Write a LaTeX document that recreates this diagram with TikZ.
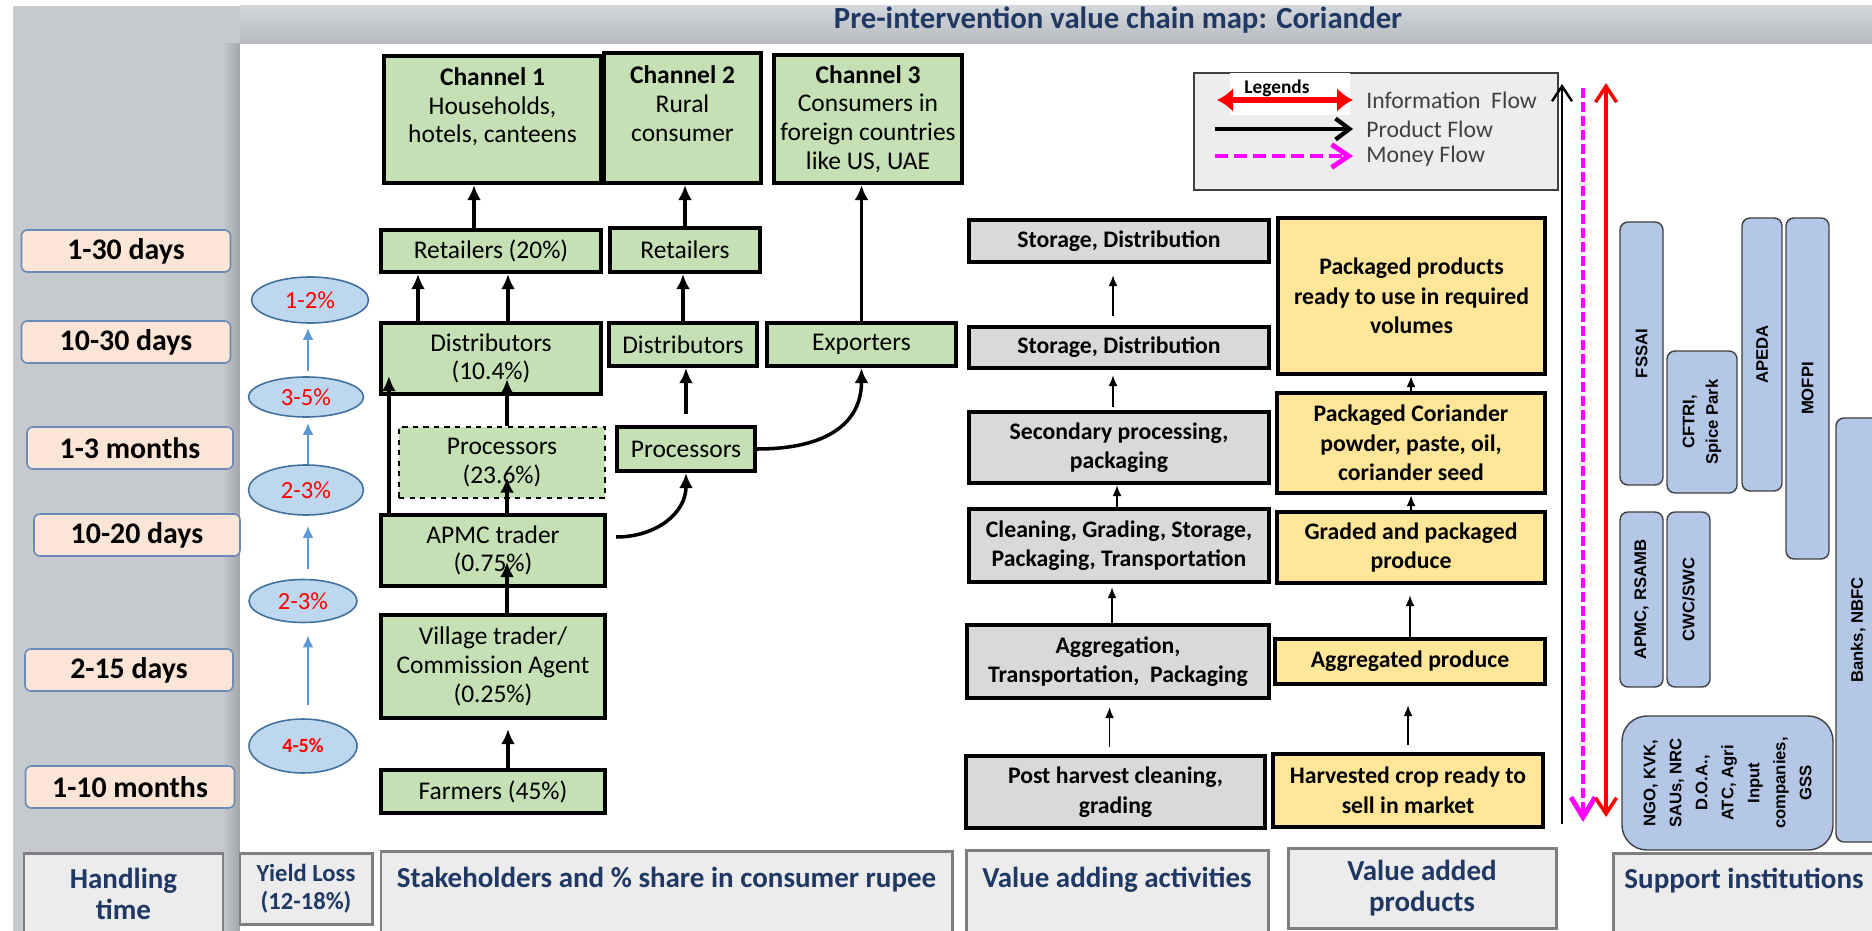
\documentclass[tikz,border=0pt]{standalone}
\usepackage{fontspec}
\setmainfont{Carlito}
\newfontfamily\arialfont{Liberation Sans}
\usetikzlibrary{shapes,arrows.meta,calc}
\definecolor{chgreen}{HTML}{C5E0B4}
\definecolor{actgray}{HTML}{D9D9D9}
\definecolor{prodyellow}{HTML}{FFE699}
\definecolor{peach}{HTML}{FBE5D6}
\definecolor{peachline}{HTML}{6A8BB8}
\definecolor{lossblue}{HTML}{BDD7EE}
\definecolor{lossline}{HTML}{41719C}
\definecolor{arrblue}{HTML}{5B9BD5}
\definecolor{instblue}{HTML}{B4C7E7}
\definecolor{navy}{HTML}{1F3864}
\definecolor{moneypink}{HTML}{FF00FF}
\definecolor{infored}{HTML}{FF0000}
\definecolor{panelgray}{HTML}{C6C9CE}
\definecolor{panelshadow}{HTML}{A2A5AA}
\definecolor{bartop}{HTML}{D3D6DA}
\definecolor{barbottom}{HTML}{B6B9BE}
\definecolor{labelfill}{HTML}{ECECEC}
\definecolor{labelline}{HTML}{7F7F7F}
\definecolor{legfill}{HTML}{EDEDED}
\definecolor{txtgray}{HTML}{404040}
\newcommand{\handling}[4]{
  \node[timebox, minimum width=#3] (#1) at (#2) {#4};
}
\tikzset{
  gbox/.style={draw, line width=2.4pt, fill=chgreen, inner sep=1pt, align=center,
    font=\fontsize{14.5}{16.4}\selectfont},
  abox/.style={draw, line width=2.4pt, fill=actgray, inner sep=1pt, align=center,
    font=\bfseries\fontsize{13.5}{16.8}\selectfont},
  ybox/.style={abox, fill=prodyellow},
  timebox/.style={draw=peachline, line width=0.9pt, fill=peach, rounded corners=1.2mm,
    minimum height=8.4mm, font=\bfseries\fontsize{17}{20}\selectfont},
  loss/.style={ellipse, draw=lossline, line width=0.9pt, fill=lossblue, inner sep=0pt,
    text=infored, font=\fontsize{14}{16}\selectfont},
  inst/.style={draw=txtgray, line width=0.8pt, fill=instblue, rounded corners=1.6mm,
    rotate=90, align=center, inner sep=1pt,
    font=\arialfont\bfseries\fontsize{9.5}{13.5}\selectfont},
  colhead/.style={draw=labelline, line width=1.7pt, fill=labelfill, align=center,
    text=navy, font=\bfseries\fontsize{16.5}{17.6}\selectfont},
  legtxt/.style={anchor=west, inner sep=0pt, text=txtgray,
    font=\fontsize{13.5}{16}\selectfont}
}

\begin{document}
\begin{tikzpicture}[x=0.2mm,y=-0.2mm]
  \useasboundingbox (0,0) rectangle (1872,931);
  \fill[panelgray] (13,6) rectangle (1872,931);
  \shade[top color=bartop, bottom color=barbottom] (240,6) rectangle (1872,44);
  \shade[left color=panelgray, right color=panelshadow] (222,44) rectangle (240,931);
  \fill[white] (240,44) rectangle (1872,931);

  \node[text=navy, font=\bfseries\fontsize{17.5}{20}\selectfont] (title) at (1118,20)
    {Pre-intervention value chain map: Coriander};

  \handling{t1}{126,251}{41.8mm}{1-30 days}
  \handling{t2}{126,342}{41.8mm}{10-30 days}
  \handling{t3}{130,448}{41.2mm}{1-3 months}
  \handling{t4}{137,535}{41.2mm}{10-20 days}
  \handling{t5}{129,670}{41.6mm}{2-15 days}
  \handling{t6}{130,787}{41.8mm}{1-10 months}

  \node[loss, minimum width=23.4mm, minimum height=9.2mm] (e1) at (310,300) {1-2\%};
  \node[loss, minimum width=23mm, minimum height=8mm] (e2) at (306,397) {3-5\%};
  \node[loss, minimum width=23mm, minimum height=10mm] (e3) at (306,490) {2-3\%};
  \node[loss, minimum width=21.6mm, minimum height=8.6mm] (e4) at (303,601) {2-3\%};
  \node[loss, minimum width=21.6mm, minimum height=10.8mm,
    font=\bfseries\fontsize{11.5}{13}\selectfont] (e5) at (303,746) {4-5\%};

  \node[gbox, minimum width=43.4mm, minimum height=25.4mm] (ch1) at (492.5,119.5)
    {\textbf{Channel 1}\\Households,\\hotels, canteens\\~};
  \node[gbox, minimum width=31.4mm, minimum height=26mm] (ch2) at (682.5,118)
    {\textbf{Channel 2}\\Rural\\consumer\\~};
  \node[gbox, minimum width=37.6mm, minimum height=25.6mm] (ch3) at (868,119)
    {\textbf{Channel 3}\\Consumers in\\foreign countries\\like US, UAE};
  \node[gbox, minimum width=44mm, minimum height=8.4mm] (ret1) at (491,251) {Retailers (20\%)};
  \node[gbox, minimum width=30mm, minimum height=8.8mm] (ret2) at (685,250) {Retailers};
  \node[gbox, minimum width=44mm, minimum height=14.2mm] (dist1) at (491,358.5) {Distributors\\(10.4\%)};
  \node[gbox, minimum width=29.6mm, minimum height=8.6mm] (dist2) at (683,344.5) {Distributors};
  \node[gbox, minimum width=37.8mm, minimum height=8.6mm] (exp) at (861.5,344.5) {Exporters};
  \node[gbox, dashed, line width=0.8pt, minimum width=41.2mm, minimum height=14.2mm] (proc1)
    at (502,462.5) {Processors\\(23.6\%)};
  \node[gbox, minimum width=27.6mm, minimum height=8.8mm] (proc2) at (686,449) {Processors};
  \node[gbox, minimum width=44.8mm, minimum height=14.2mm] (apmc) at (493,550.5) {APMC trader\\(0.75\%)};
  \node[gbox, minimum width=44.8mm, minimum height=20.6mm] (vill) at (493,666.5)
    {Village trader/\\Commission Agent\\(0.25\%)};
  \node[gbox, minimum width=44.8mm, minimum height=8.6mm] (farm) at (493,791.5) {Farmers (45\%)};

  \node[abox, minimum width=60mm, minimum height=8.4mm] (sto1) at (1119,241) {Storage, Distribution};
  \node[abox, minimum width=60mm, minimum height=8.2mm] (sto2) at (1119,347.5) {Storage, Distribution};
  \node[abox, minimum width=60mm, minimum height=14.2mm] (sec) at (1119,447.5)
    {Secondary processing,\\packaging};
  \node[abox, minimum width=60mm, minimum height=14.6mm] (clean) at (1119,545.5)
    {Cleaning, Grading, Storage,\\Packaging, Transportation};
  \node[abox, minimum width=60.4mm, minimum height=14.6mm] (agg) at (1118,661.5)
    {Aggregation,\\Transportation,~ Packaging};
  \node[abox, minimum width=59.8mm, minimum height=14.4mm] (post) at (1115.5,792)
    {Post harvest cleaning,\\grading};

  \node[ybox, minimum width=53.4mm, minimum height=31.2mm] (pprod) at (1411.5,296)
    {Packaged products\\ready to use in required\\volumes};
  \node[ybox, minimum width=53.6mm, minimum height=20mm] (pcor) at (1411,443)
    {Packaged Coriander\\powder, paste, oil,\\coriander seed};
  \node[ybox, minimum width=53.6mm, minimum height=14.2mm] (graded) at (1411,547.5)
    {Graded and packaged\\produce};
  \node[ybox, minimum width=54mm, minimum height=9mm] (aggp) at (1410,661.5) {Aggregated produce};
  \node[ybox, minimum width=54mm, minimum height=14.6mm] (harv) at (1408,790.5)
    {Harvested crop ready to\\sell in market};

  \node[draw=txtgray, line width=0.9pt, fill=legfill, minimum width=72.8mm, minimum height=23.4mm]
    (legend) at (1376,131.5) {};
  \node[fill=white, minimum width=24mm, minimum height=8.4mm] (legbg) at (1290,94) {};
  \node[font=\bfseries\fontsize{11}{13}\selectfont] (legtitle) at (1277,88) {Legends};
  \node[legtxt] (inftxt) at (1366,100) {Information~ Flow};
  \node[legtxt] (prdtxt) at (1366,129) {Product Flow};
  \node[legtxt] (montxt) at (1366,156) {Money Flow};
  \coordinate (inf1) at (1217,100);
  \coordinate (inf2) at (1353,100);
  \coordinate (prd1) at (1215,129);
  \coordinate (prd2) at (1353,129);
  \coordinate (mon1) at (1215,156);
  \coordinate (mon2) at (1353,156);

  \coordinate (pf1) at (1562,824);
  \coordinate (pf2) at (1562,84);
  \coordinate (mf1) at (1583,88);
  \coordinate (mf2) at (1583,822);
  \coordinate (if1) at (1606,83);
  \coordinate (if2) at (1606,817);

  \node[inst, minimum width=52.6mm, minimum height=8.6mm] (fssai) at (1641.5,353.5) {FSSAI};
  \node[inst, minimum width=28.4mm, minimum height=14mm] (cftri) at (1702,422) {CFTRI,\\Spice Park};
  \node[inst, minimum width=54.6mm, minimum height=8mm] (apeda) at (1762,354.5) {APEDA};
  \node[inst, minimum width=68.2mm, minimum height=8.6mm] (mofpi) at (1807.5,388.5) {MOFPI};
  \node[inst, minimum width=35mm, minimum height=8.6mm] (apmcs) at (1641.5,599.5) {APMC, RSAMB};
  \node[inst, minimum width=35mm, minimum height=8.6mm] (cwc) at (1688.5,599.5) {CWC/SWC};
  \node[inst, minimum width=84.8mm, minimum height=8.8mm] (banks) at (1858,630) {Banks, NBFC};
  \node[inst, rounded corners=5mm, minimum width=26.8mm, minimum height=42.2mm,
    font=\arialfont\bfseries\fontsize{9.5}{14.8}\selectfont] (ngo) at (1727.5,783)
    {NGO, KVK,\\SAUs, NRC\\D.O.A.,\\ATC, Agri\\Input\\companies,\\GSS};

  \node[colhead, minimum width=39.8mm, minimum height=16.4mm] (hdtime) at (123.5,894) {Handling\\time};
  \node[colhead, font=\bfseries\fontsize{14}{15.9}\selectfont, minimum width=26.4mm,
    minimum height=14.2mm] (hdloss) at (306,888.5) {Yield Loss\\(12-18\%)};
  \node[colhead, minimum width=114.2mm, minimum height=16.8mm] (hdstake) at (666.5,893)
    {Stakeholders and \% share in consumer rupee\\~};
  \node[colhead, minimum width=60.4mm, minimum height=17mm] (hdact) at (1117,892.5)
    {Value adding activities\\~};
  \node[colhead, minimum width=53.6mm, minimum height=16mm] (hdprod) at (1422,888)
    {Value added\\products};
  \node[colhead, minimum width=52.4mm, minimum height=16.4mm] (hdsupp) at (1744,894)
    {Support institutions\\~};

  \tikzstyle{prodarr}=[line width=2pt, -{Latex[length=3mm,width=2.8mm]}]
  \draw[prodarr] ([xshift=-3.4mm]ret1.north) -- ([xshift=-3.4mm]ret1.north |- ch1.south);
  \draw[prodarr] (ret2.north) -- (ret2.north |- ch2.south);
  \draw[prodarr] (exp.north) -- (exp.north |- ch3.south);
  \draw[prodarr] ([xshift=-14.6mm]dist1.north) -- ([xshift=-14.6mm]dist1.north |- ret1.south);
  \draw[prodarr] ([xshift=3.4mm]dist1.north) -- ([xshift=3.4mm]dist1.north |- ret1.south);
  \draw[prodarr] (dist2.north) -- (dist2.north |- ret2.south);
  \draw[prodarr] ([yshift=2.2mm]proc2.north) -- (proc2.north |- dist2.south);
  \draw[prodarr] ([xshift=1mm]proc1.north) -- ([xshift=1mm,yshift=3.4mm]proc1.north |- dist1.south);
  \draw[prodarr] ([xshift=2mm]apmc.north west) -- ([xshift=2mm,yshift=4mm]apmc.north west |- dist1.south);
  \draw[prodarr] ([xshift=2.8mm]apmc.north) -- ([xshift=2.8mm,yshift=4.2mm]apmc.north |- proc1.south);
  \draw[prodarr] ([xshift=2.8mm]vill.north) -- ([xshift=2.8mm,yshift=5.2mm]vill.north |- apmc.south);
  \draw[prodarr, shorten >=1.8mm] ([xshift=3mm]farm.north) -- ([xshift=3mm]farm.north |- vill.south);
  \draw[prodarr] ([xshift=1.8mm,yshift=2.7mm]apmc.east) .. controls +(40,0) and +(0,40) .. (proc2.south);
  \draw[prodarr] (proc2.east) .. controls +(70,0) and +(0,55) .. (exp.south);

  \tikzstyle{thinarr}=[line width=1.1pt, -{Latex[length=2.2mm,width=1.8mm]}]
  \draw[thinarr, shorten <=1.4mm, shorten >=1.4mm] ([xshift=-1.2mm]post.north) -- ([xshift=-1.2mm]post.north |- agg.south);
  \draw[thinarr, shorten >=0.6mm] ([xshift=-1.2mm]agg.north) -- ([xshift=-1.2mm]agg.north |- clean.south);
  \draw[thinarr] ([xshift=-0.4mm]clean.north) -- ([xshift=-0.4mm]clean.north |- sec.south);
  \draw[thinarr, shorten <=0.6mm, shorten >=1mm] ([xshift=-1.2mm]sec.north) -- ([xshift=-1.2mm]sec.north |- sto2.south);
  \draw[thinarr, shorten <=1.8mm, shorten >=2.2mm] ([xshift=-1.2mm]sto2.north) -- ([xshift=-1.2mm]sto2.north |- sto1.south);
  \draw[thinarr, shorten <=1.4mm, shorten >=3.8mm] (harv.north) -- (harv.north |- aggp.south);
  \draw[thinarr, shorten >=2mm] (aggp.north) -- (aggp.north |- graded.south);
  \draw[thinarr] (graded.north) -- (graded.north |- pcor.south);
  \draw[thinarr] (pcor.north) -- (pcor.north |- pprod.south);

  \tikzstyle{lossarr}=[arrblue, line width=1.6pt, -{Latex[length=2.4mm,width=2.2mm]}]
  \draw[lossarr, shorten <=2.6mm, shorten >=2.4mm] ([xshift=1mm]e5.north) -- ([xshift=1mm]e5.north |- e4.south);
  \draw[lossarr, shorten <=2mm, shorten >=2mm] ([xshift=1mm]e4.north) -- ([xshift=1mm]e4.north |- e3.south);
  \draw[lossarr, shorten >=1mm] ([xshift=0.4mm]e3.north) -- ([xshift=0.4mm]e3.north |- e2.south);
  \draw[lossarr, shorten <=1mm, shorten >=0.8mm] ([xshift=0.4mm]e2.north) -- ([xshift=0.4mm]e2.north |- e1.south);

  \draw[infored, line width=3pt, {Latex[length=3.2mm,width=4.8mm]}-{Latex[length=3.2mm,width=4.8mm]}] (inf1) -- (inf2);
  \draw[line width=2.4pt, -{Straight Barb[length=2.8mm,width=4.2mm]}] (prd1) -- (prd2);
  \draw[moneypink, line width=2.8pt, dash pattern=on 2.6mm off 1.2mm, -{Straight Barb[length=3.4mm,width=4.6mm]}] (mon1) -- (mon2);

  \draw[line width=1.4pt, -{Straight Barb[length=3mm,width=4mm]}] (pf1) -- (pf2);
  \draw[moneypink, line width=2.8pt, dash pattern=on 2mm off 0.8mm, -{Straight Barb[length=4mm,width=4.8mm]}] (mf1) -- (mf2);
  \draw[infored, line width=2pt, {Straight Barb[length=3.2mm,width=4.2mm]}-{Straight Barb[length=3.2mm,width=4.2mm]}] (if1) -- (if2);
\end{tikzpicture}
\end{document}
